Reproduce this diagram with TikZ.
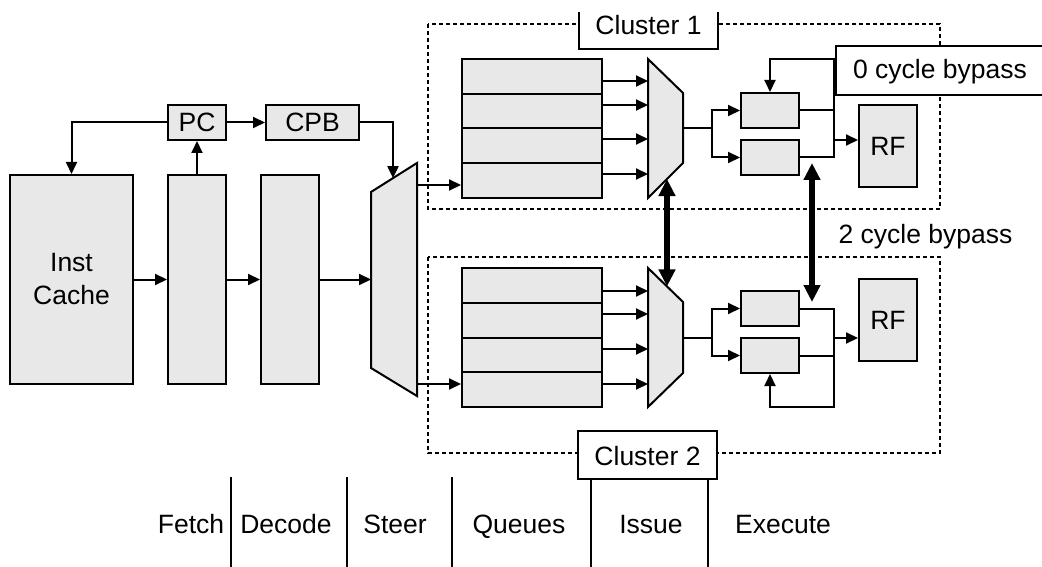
\documentclass[tikz,border=0pt]{standalone}
\usepackage{fontspec}
\setmainfont{Liberation Sans}
\usetikzlibrary{arrows.meta,calc}
\definecolor{blkfill}{HTML}{E8E8E8}

\begin{document}
\begin{tikzpicture}[x=1pt,y=-1pt,
  line width=2pt,
  font=\fontsize{26.5}{33}\selectfont,
  blk/.style={draw, fill=blkfill, inner sep=0pt, align=center},
  mux/.style={draw, fill=blkfill},
  arr/.style={-{Triangle[length=12pt,width=11pt]}},
  bigarr/.style={line width=5.5pt,
    {Triangle[length=17pt,width=16pt]}-{Triangle[length=17pt,width=16pt]}},
  clus/.style={draw, dash pattern=on 4pt off 3pt, line width=1.5pt},
  lbl/.style={fill=white, inner sep=0pt},
  stage/.style={inner sep=0pt, anchor=base}
]
\useasboundingbox (0,0) rectangle (1042,567);

% ---- cluster outlines ----
\draw[clus] (428,24) rectangle (940,209);
\draw[clus] (428,257) rectangle (940,453);

% ---- front end ----
\node[blk, minimum width=123, minimum height=209] (cache) at (71.5,279.5) {Inst\\Cache};
\node[blk, minimum width=58, minimum height=35] (pc) at (197,122.5) {PC};
\node[blk, minimum width=93, minimum height=35] (cpb) at (312.5,122.5) {CPB};
\node[blk, minimum width=58, minimum height=209] (fetch) at (197,279.5) {};
\node[blk, minimum width=58, minimum height=209] (decode) at (290,279.5) {};

% steering multiplexer
\draw[mux] (371,192) -- (417,163) -- (417,396) -- (371,368) -- cycle;
\coordinate (steerIn) at (371,279.5);
\coordinate (steerTop) at ($(371,192)!22/46!(417,163)$);
\coordinate (steerOut1) at (417,185);
\coordinate (steerOut2) at (417,384);

\draw[arr] (pc.west) -| (cache.north);
\draw[arr] (fetch.north) -- (pc.south);
\draw[arr] (pc.east) -- (cpb.west);
\draw[arr] (cpb.east) -| (steerTop);
\draw[arr] (cache.east) -- (fetch.west);
\draw[arr] (fetch.east) -- (decode.west);
\draw[arr] (decode.east) -- (steerIn);

% ---- issue queues ----
\foreach \c/\y in {1/59, 2/268} {
  \node[blk, minimum width=140, minimum height=34.75] (q\c a) at (532,\y+17.375) {};
  \node[blk, minimum width=140, minimum height=34.75] (q\c b) at (532,\y+52.125) {};
  \node[blk, minimum width=140, minimum height=34.75] (q\c c) at (532,\y+86.875) {};
  \node[blk, minimum width=140, minimum height=34.75] (q\c d) at (532,\y+121.625) {};
}
\draw[arr] (steerOut1) -- (steerOut1 -| q1d.west);
\draw[arr] (steerOut2) -- (steerOut2 -| q2d.west);

% ---- issue multiplexers ----
\draw[mux] (648,59) -- (683,93) -- (683,163) -- (648,198) -- cycle;
\draw[mux] (648,268) -- (683,302) -- (683,373) -- (648,407) -- cycle;
\coordinate (m1a) at (648,81);  \coordinate (m1b) at (648,105);
\coordinate (m1c) at (648,139); \coordinate (m1d) at (648,174);
\coordinate (m2a) at (648,291); \coordinate (m2b) at (648,314);
\coordinate (m2c) at (648,349); \coordinate (m2d) at (648,384);
\coordinate (m1out) at (683,128);
\coordinate (m2out) at (683,338);
\coordinate (m1bot) at ($(648,198)!19/35!(683,163)$);
\coordinate (m2top) at ($(648,268)!19/35!(683,302)$);

\foreach \c in {1,2} {
  \foreach \r in {a,b,c,d} {
    \draw[arr] (q\c\r.east |- m\c\r) -- (m\c\r);
  }
}

% ---- execution units ----
\node[blk, minimum width=58, minimum height=35] (alu1a) at (770,110.5) {};
\node[blk, minimum width=58, minimum height=35] (alu1b) at (770,157.5) {};
\node[blk, minimum width=58, minimum height=35] (alu2a) at (770,308.5) {};
\node[blk, minimum width=58, minimum height=35] (alu2b) at (770,355.5) {};
\node[blk, minimum width=58, minimum height=82] (rf1) at (888,146) {RF};
\node[blk, minimum width=58, minimum height=82] (rf2) at (888,320) {RF};

\draw (m1out) -- ++(29,0) coordinate (j1);
\draw[arr] (j1) |- (alu1a.west);
\draw[arr] (j1) |- (alu1b.west);
\draw (m2out) -- ++(29,0) coordinate (j2);
\draw[arr] (j2) |- (alu2a.west);
\draw[arr] (j2) |- (alu2b.west);

% results, local bypass and register write
\coordinate (w1) at (834,140);
\coordinate (w2) at (834,338);
\draw[arr] (alu1a.east) -| (834,59) -| (alu1a.north);
\draw (alu1b.east) -| (834,110.5);
\draw[arr] (w1) -- (w1 -| rf1.west);
\draw (alu2a.east) -| (834,355.5);
\draw[arr] (alu2b.east) -| (834,407) -| (alu2b.south);
\draw[arr] (w2) -- (w2 -| rf2.west);

% inter-cluster paths
\coordinate (b1) at (812,163);
\coordinate (b2) at (812,302);
\draw[bigarr] (m1bot) -- (m2top);
\draw[bigarr] (b1) -- (b2);

% ---- labels ----
\node[lbl, minimum width=137, text height=22pt, text depth=13pt] (cl1) at (648.5,30.5) {Cluster 1};
\draw (cl1.north west) -- (cl1.south west) -- (cl1.south east) -- (cl1.north east);
\node[lbl, draw, minimum width=139, text height=34pt, text depth=14pt] (cl2) at (647.5,455) {Cluster 2};
\node[lbl, minimum width=206, text height=32pt, text depth=15pt] (zb) at (940,70.5) {0 cycle bypass};
\draw (zb.north east) -- (zb.north west) -- (zb.south west) -- (zb.south east);
\node[stage] (tb) at (925.5,243) {2 cycle bypass};

% ---- pipeline stages ----
\draw (231,477) -- (231,567);
\draw (347,477) -- (347,567);
\draw (452,477) -- (452,567);
\draw (cl2.south -| 591,0) -- (591,567);
\draw (cl2.south -| 708,0) -- (708,567);
\node[stage] (sFetch) at (191,533) {Fetch};
\node[stage] (sDecode) at (286,533) {Decode};
\node[stage] (sSteer) at (395,533) {Steer};
\node[stage] (sQueues) at (519,533) {Queues};
\node[stage] (sIssue) at (651,533) {Issue};
\node[stage] (sExecute) at (783,533) {Execute};
\end{tikzpicture}
\end{document}
